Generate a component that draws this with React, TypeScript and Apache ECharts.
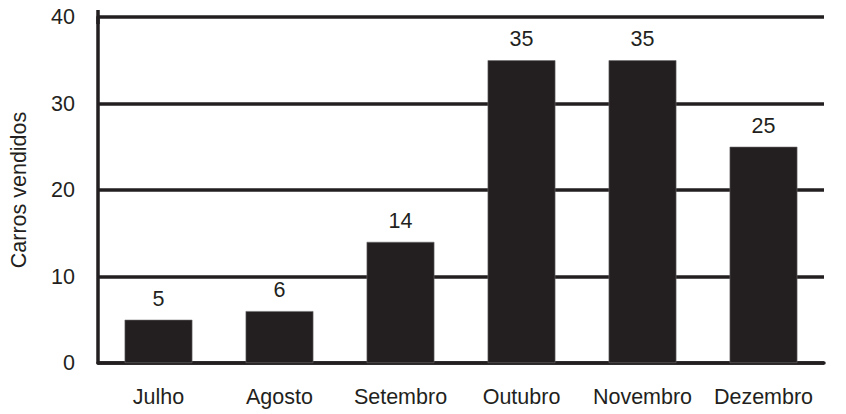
import React, { useEffect, useRef } from 'react';
import * as echarts from 'echarts';

const months = ['Julho', 'Agosto', 'Setembro', 'Outubro', 'Novembro', 'Dezembro'];
const carsSold = [5, 6, 14, 35, 35, 25];
const yTicks = [0, 10, 20, 30, 40];

const INK = '#231f20';
const FONT = '"Liberation Sans", Arial, Helvetica, sans-serif';

const App: React.FC = () => {
  const chartRef = useRef<HTMLDivElement>(null);

  useEffect(() => {
    if (!chartRef.current) {
      return;
    }
    const chart = echarts.init(chartRef.current, null, { renderer: 'svg' });

    const option: echarts.EChartsOption = {
      animation: false,
      backgroundColor: '#ffffff',
      textStyle: { fontFamily: FONT },
      grid: {
        left: 91,
        right: 22,
        top: 17,
        bottom: 51,
        containLabel: false
      },
      xAxis: {
        type: 'category',
        data: months,
        axisLine: { show: true, lineStyle: { color: INK, width: 3.5 } },
        axisTick: { show: false },
        axisLabel: {
          interval: 0,
          color: INK,
          fontSize: 21.5,
          fontFamily: FONT,
          margin: 23
        },
        splitLine: { show: false }
      },
      yAxis: {
        type: 'value',
        min: yTicks[0],
        max: yTicks[yTicks.length - 1],
        interval: 10,
        name: 'Carros vendidos',
        nameLocation: 'middle',
        nameGap: 68,
        nameTextStyle: { color: INK, fontSize: 21.5, fontFamily: FONT },
        axisLine: {
          show: true,
          symbol: ['none', 'rect'],
          symbolSize: [3.5, 14],
          lineStyle: { color: INK, width: 3.5 }
        },
        axisTick: { show: false },
        axisLabel: {
          color: INK,
          fontSize: 21.5,
          fontFamily: FONT,
          margin: 23
        },
        splitLine: {
          show: true,
          lineStyle: { color: INK, width: 3.5 }
        }
      },
      series: [
        {
          name: 'Carros vendidos',
          type: 'bar',
          data: carsSold,
          barWidth: '56%',
          itemStyle: {
            color: INK,
            borderColor: '#6d6a6a',
            borderWidth: 0.6
          },
          label: {
            show: true,
            position: 'top',
            distance: 10,
            color: INK,
            fontSize: 21.5,
            fontFamily: FONT
          }
        }
      ]
    };

    chart.setOption(option, true);

    return () => {
      chart.dispose();
    };
  }, []);

  return (
    <div
      ref={chartRef}
      style={{
        width: '846px',
        height: '414px',
        position: 'absolute',
        left: 0,
        top: 0,
        overflow: 'hidden'
      }}
    />
  );
};

export default App;
